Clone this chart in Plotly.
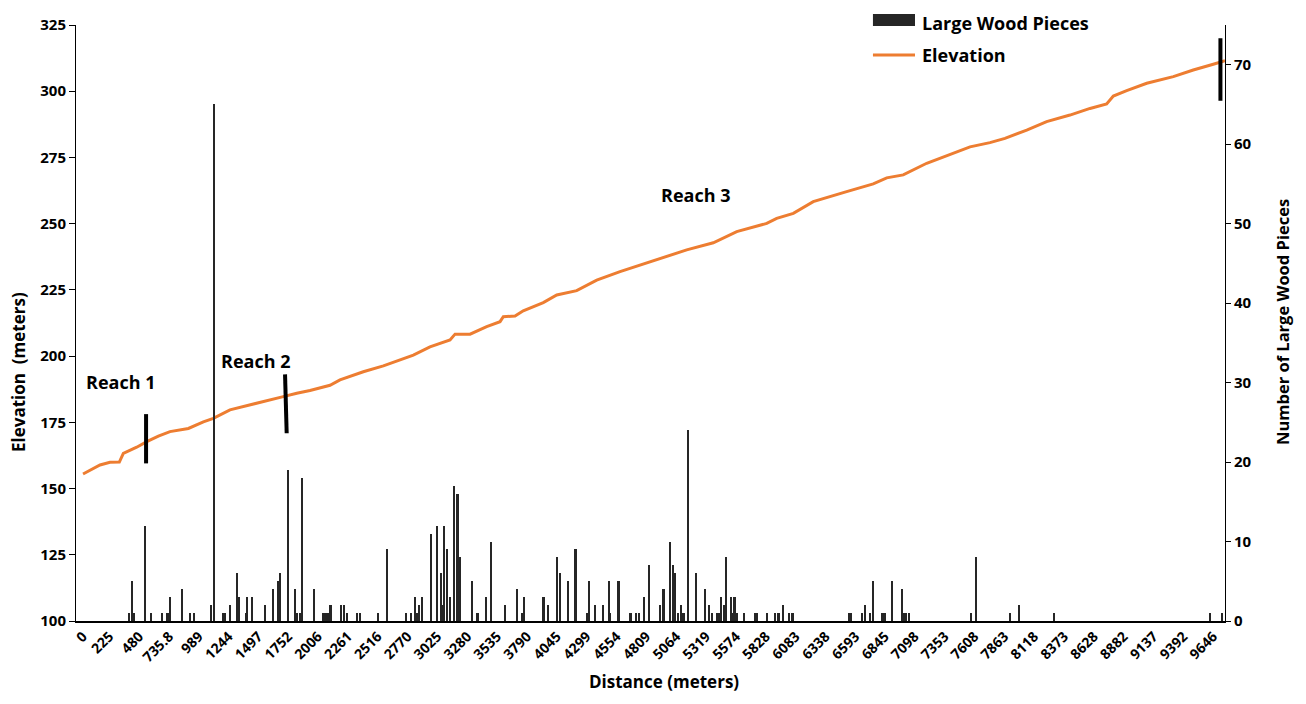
import plotly.graph_objects as go

# ---------------- data ----------------
tick_labels = ["0", "225", "480", "735.8", "989", "1244", "1497", "1752", "2006", "2261",
               "2516", "2770", "3025", "3280", "3535", "3790", "4045", "4299", "4554", "4809",
               "5064", "5319", "5574", "5828", "6083", "6338", "6593", "6845", "7098", "7353",
               "7608", "7863", "8118", "8373", "8628", "8882", "9137", "9392", "9646"]

wood_dist = [393, 416, 435, 532, 586, 672, 723, 742, 847, 916, 953, 1098, 1118, 1195, 1214,
             1257, 1314, 1334, 1391, 1400, 1442, 1553, 1624, 1664, 1681, 1755, 1809, 1832,
             1852, 1875, 1974, 2051, 2065, 2080, 2099, 2114, 2202, 2227, 2253, 2341, 2370,
             2518, 2594, 2759, 2797, 2839, 2853, 2873, 2899, 2970, 3024, 3055, 3070, 3083,
             3112, 3138, 3172, 3198, 3215, 3320, 3365, 3377, 3445, 3488, 3601, 3704, 3749,
             3766, 3932, 3968, 4045, 4071, 4145, 4205, 4299, 4318, 4369, 4440, 4489, 4500,
             4572, 4666, 4679, 4719, 4745, 4788, 4833, 4922, 4956, 5009, 5041, 5052, 5078,
             5103, 5118, 5132, 5166, 5234, 5312, 5348, 5368, 5416, 5428, 5445, 5470, 5490,
             5530, 5550, 5562, 5579, 5647, 5735, 5758, 5837, 5908, 5931, 5942, 5980, 6028,
             6057, 6543, 6560, 6654, 6676, 6716, 6744, 6825, 6850, 6904, 6989, 7012, 7029,
             7049, 7578, 7621, 7911, 7990, 8286, 9618, 9726]
wood_count = [1, 5, 1, 12, 1, 1, 1, 3, 4, 1, 1, 2, 65, 1, 1,
              2, 6, 3, 1, 3, 3, 2, 4, 5, 6, 19, 4, 1,
              1, 18, 4, 1, 1, 1, 1, 2, 2, 2, 1, 1, 1,
              1, 9, 1, 1, 3, 1, 2, 3, 11, 12, 6, 2, 12,
              9, 3, 17, 16, 8, 5, 1, 1, 3, 10, 2, 4, 1,
              3, 3, 2, 8, 6, 5, 9, 1, 5, 2, 2, 5, 1,
              5, 1, 1, 1, 1, 3, 7, 2, 4, 10, 7, 6, 1,
              2, 1, 1, 24, 6, 4, 2, 1, 1, 1, 3, 2, 8,
              3, 1, 3, 1, 1, 1, 1, 1, 1, 1, 1, 2, 1,
              1, 1, 1, 1, 2, 1, 5, 1, 1, 5, 4, 1, 1,
              1, 1, 8, 1, 2, 1, 1, 1]

elev_dist = [0, 145, 230, 310, 344, 458, 544, 643, 742, 899, 1027, 1112, 1254, 1425, 1596,
             1709, 1824, 1937, 2108, 2193, 2392, 2563, 2819, 2961, 3132, 3175, 3303, 3445,
             3559, 3587, 3687, 3757, 3928, 4043, 4213, 4384, 4583, 4668, 4924, 5152, 5379,
             5579, 5835, 5920, 6062, 6232, 6517, 6744, 6859, 7000, 7200, 7570, 7740, 7868,
             8054, 8224, 8423, 8594, 8736, 8793, 8907, 9078, 9305, 9475, 9646, 9746]
elev_m = [155.5, 158.9, 159.9, 160.0, 163.3, 165.6, 167.7, 169.8, 171.5, 172.7, 175.2, 176.5,
          179.7, 181.5, 183.4, 184.7, 186.0, 187.0, 189.0, 191.0, 194.1, 196.3, 200.4, 203.5,
          206.1, 208.3, 208.3, 211.1, 213.0, 214.9, 215.1, 217.1, 220.2, 223.1, 224.7, 228.7,
          231.9, 233.1, 236.9, 240.1, 242.8, 247.0, 250.1, 252.0, 253.9, 258.3, 262.1, 265.0,
          267.3, 268.4, 272.8, 279.0, 280.6, 282.2, 285.3, 288.5, 291.0, 293.5, 295.2, 298.2,
          300.2, 303.0, 305.5, 308.0, 310.2, 311.5]

reach_labels = ["Reach 1", "Reach 2", "Reach 3"]
reach_label_dist = [316, 1476, 5231]
reach_label_elev = [190.2, 198.2, 260.8]

# reach boundary markers: (dist_top, elev_top, dist_bottom, elev_bottom)
reach_marks = [(538, 178.1, 538, 159.5),
               (1724, 193.1, 1738, 170.9),
               (9707, 320.0, 9707, 296.4)]

legend_names = ["Large Wood Pieces", "Elevation"]
x_title = "Distance (meters)"
y_left_title = "Elevation  (meters)"
y_right_title = "Number of Large Wood Pieces"

# ---------------- figure ----------------
FONT = "Open Sans"
BAR_COLOR = "#262626"
LINE_COLOR = "#ED7D31"

fig = go.Figure()

fig.add_trace(go.Bar(
    x=wood_dist, y=wood_count, width=13, name=legend_names[0],
    marker=dict(color=BAR_COLOR, line=dict(width=0)), yaxis="y2", showlegend=False))

fig.add_trace(go.Scatter(
    x=elev_dist, y=elev_m, mode="lines", name=legend_names[1],
    line=dict(color=LINE_COLOR, width=3), yaxis="y", showlegend=False))

for (x0, y0, x1, y1) in reach_marks:
    fig.add_trace(go.Scatter(x=[x0, x1], y=[y0, y1], mode="lines",
                             line=dict(color="black", width=4), showlegend=False,
                             yaxis="y", hoverinfo="skip"))

for t, x, y in zip(reach_labels, reach_label_dist, reach_label_elev):
    fig.add_annotation(x=x, y=y, xref="x", yref="y", text=t, showarrow=False,
                       font=dict(family=FONT, size=18, color="black", weight="bold"))

# custom legend (wide bar swatch + line swatch)
fig.add_shape(type="rect", xref="paper", yref="paper", x0=0.6936, x1=0.7302,
              y0=0.9983, y1=1.0184, fillcolor=BAR_COLOR, line=dict(width=0))
fig.add_shape(type="line", xref="paper", yref="paper", x0=0.6936, x1=0.7302,
              y0=0.9497, y1=0.9497, line=dict(color=LINE_COLOR, width=3))
fig.add_annotation(x=0.7346, y=1.0268, xref="paper", yref="paper", text=legend_names[0],
                   showarrow=False, xanchor="left", yanchor="top",
                   font=dict(family=FONT, size=18, color="black", weight="bold"))
fig.add_annotation(x=0.7346, y=0.9497, xref="paper", yref="paper", text=legend_names[1],
                   showarrow=False, xanchor="left", yanchor="middle",
                   font=dict(family=FONT, size=18, color="black", weight="bold"))

# axis titles placed as in the reference
fig.add_annotation(x=0.5117, y=-0.1023, xref="paper", yref="paper", text=x_title,
                   showarrow=False, xanchor="center", yanchor="middle",
                   font=dict(family=FONT, size=17, color="black", weight="bold"))
fig.add_annotation(x=-0.0496, y=0.4178, xref="paper", yref="paper", text=y_left_title,
                   showarrow=False, xanchor="center", yanchor="middle", textangle=-90,
                   font=dict(family=FONT, size=17, color="black", weight="bold"))
fig.add_annotation(x=1.0505, y=0.5017, xref="paper", yref="paper", text=y_right_title,
                   showarrow=False, xanchor="center", yanchor="middle", textangle=-90,
                   font=dict(family=FONT, size=16.5, color="black", weight="bold"))

tickvals = [float(v) for v in tick_labels]

fig.update_layout(
    width=1290, height=688,
    paper_bgcolor="white", plot_bgcolor="white",
    margin=dict(l=68, r=73, t=17, b=75, autoexpand=False),
    font=dict(family=FONT, size=15, color="black", weight="bold"),
    bargap=0,
    showlegend=False,
    xaxis=dict(range=[-60, 9746], tickvals=tickvals, ticktext=tick_labels,
               tickangle=-45, showgrid=False, zeroline=False,
               showline=True, linecolor="black", linewidth=1.5,
               ticks="", tickfont=dict(size=14, family=FONT, weight="bold"),
               automargin=False),
    yaxis=dict(range=[100, 325], tickvals=list(range(100, 326, 25)),
               showgrid=False, zeroline=False, showline=True, linecolor="black",
               linewidth=1, ticks="outside", ticklen=6, tickcolor="black",
               tickfont=dict(size=15, family=FONT, weight="bold"),
               automargin=False),
    yaxis2=dict(range=[0, 75], tickvals=list(range(0, 71, 10)), overlaying="y",
                side="right", showgrid=False, zeroline=False, showline=True,
                linecolor="black", linewidth=1, ticks="outside", ticklen=5,
                tickcolor="black",
                tickfont=dict(size=15, family=FONT, weight="bold"),
                automargin=False),
)

fig.write_html("out.html")
